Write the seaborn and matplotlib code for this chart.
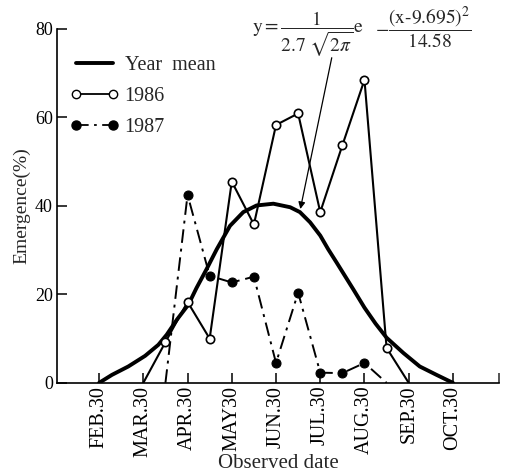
import numpy as np
import pandas as pd
import matplotlib
matplotlib.use("Agg")
import matplotlib.pyplot as plt
from matplotlib.lines import Line2D
import seaborn as sns

# ---- data (x in months, 0 = FEB.30) ----
tick_labels = ["FEB.30", "MAR.30", "APR.30", "MAY30", "JUN.30",
               "JUL.30", "AUG.30", "SEP.30", "OCT.30"]
tick_pos = [0, 1, 2, 3, 4, 5, 6, 7, 8]

x_1986 = [1, 1.5, 2, 2.5, 3, 3.5, 4, 4.5, 5, 5.5, 6, 6.5, 7]
y_1986 = [0, 9.2, 18.3, 10.0, 45.5, 35.8, 58.3, 60.9, 38.6, 53.7, 68.5, 7.9, 0]

x_1987 = [1.5, 2, 2.5, 3, 3.5, 4, 4.5, 5, 5.5, 6, 6.5]
y_1987 = [0, 42.5, 24.2, 22.7, 24.0, 4.5, 20.4, 2.3, 2.2, 4.5, 0]

x_mean = [0, 0.29, 0.66, 1.04, 1.34, 1.53, 1.76, 2.02, 2.2, 2.43, 2.66,
          2.96, 3.26, 3.56, 3.94, 4.32, 4.54, 4.77, 5.0, 5.18, 5.37, 5.75,
          6.0, 6.25, 6.5, 6.88, 7.25, 7.63, 8.0]
y_mean = [0, 1.8, 3.7, 6.1, 8.6, 10.9, 14.3, 17.7, 21.4, 25.7, 30.2,
          35.5, 38.6, 40.1, 40.5, 39.7, 38.6, 36.3, 33.3, 30.2, 27.2, 21.1,
          17.0, 13.4, 10.2, 6.75, 3.7, 1.8, 0]

sns.set_style("ticks")
plt.rcParams["font.family"] = ["Liberation Serif", "DejaVu Serif"]
plt.rcParams["mathtext.fontset"] = "stix"

fig = plt.figure(figsize=(5.05, 4.75), dpi=100)
ax = fig.add_axes([0.113, 0.194, 0.875, 0.745])

df86 = pd.DataFrame({"x": x_1986, "y": y_1986})
df87 = pd.DataFrame({"x": x_1987, "y": y_1987})
dfm = pd.DataFrame({"x": x_mean, "y": y_mean})

sns.lineplot(data=dfm, x="x", y="y", ax=ax, color="black", lw=2.8,
             sort=False, estimator=None, solid_capstyle="round",
             solid_joinstyle="round")
sns.lineplot(data=df87, x="x", y="y", ax=ax, color="black", lw=1.4,
             sort=False, estimator=None, linestyle=(0, (7, 3, 1.5, 3)),
             marker="o", markersize=6.5, markerfacecolor="black",
             markeredgecolor="black", markevery=slice(1, -1))
sns.lineplot(data=df86, x="x", y="y", ax=ax, color="black", lw=1.5,
             sort=False, estimator=None,
             marker="o", markersize=6, markerfacecolor="white",
             markeredgecolor="black", markeredgewidth=1.2,
             markevery=slice(1, -1))

ax.set_xlim(-0.95, 9.04)
ax.set_ylim(0, 80)
ax.set_yticks([0, 20, 40, 60, 80])
ax.set_xticks(tick_pos)
ax.set_xticklabels(tick_labels, rotation=90)
ax.set_xticks([9.04], minor=True)
ax.tick_params(axis="both", direction="in", length=7, width=1.1,
               colors="black")
ax.tick_params(axis="y", labelsize=13, pad=3)
ax.tick_params(axis="x", labelsize=14.5, pad=2)
ax.tick_params(axis="x", which="minor", direction="in", length=7, width=1.1)
for s in ["top", "right"]:
    ax.spines[s].set_visible(False)
for s in ["left", "bottom"]:
    ax.spines[s].set_linewidth(1.2)
    ax.spines[s].set_color("black")

ax.set_xlabel("Observed date", fontsize=15, labelpad=-2)
ax.set_ylabel("Emergence(%)", fontsize=14, labelpad=3)

handles = [
    Line2D([], [], color="black", lw=2.8),
    Line2D([], [], color="black", lw=1.3, marker="o", markersize=6,
           markerfacecolor="white", markeredgecolor="black"),
    Line2D([], [], color="black", lw=1.3, linestyle=(0, (7, 3, 1.5, 3)),
           marker="o", markersize=6.5, markerfacecolor="black"),
]
ax.legend(handles, ["Year  mean", "1986", "1987"], loc="upper left",
          bbox_to_anchor=(0.03, 0.925), frameon=False, fontsize=14.5,
          numpoints=2, handlelength=2.4, handletextpad=0.3,
          labelspacing=0.6, borderaxespad=0, borderpad=0)

# formula annotation
fig.text(0.499, 0.928, r"$\mathrm{y}=\dfrac{1}{2.7\;\sqrt{2\pi}}\mathrm{e}$",
         fontsize=14, ha="left", va="center")
fig.text(0.742, 0.942, r"$-\dfrac{(\mathrm{x}\text{-}9.695)^{2}}{14.58}$",
         fontsize=14, ha="left", va="center")
ax.annotate("", xy=(4.55, 39.3), xytext=(5.26, 73.5),
            arrowprops=dict(arrowstyle="-|>", color="black", lw=0.9,
                            mutation_scale=10, shrinkA=0, shrinkB=0))

fig.savefig("out.png", dpi=100)
